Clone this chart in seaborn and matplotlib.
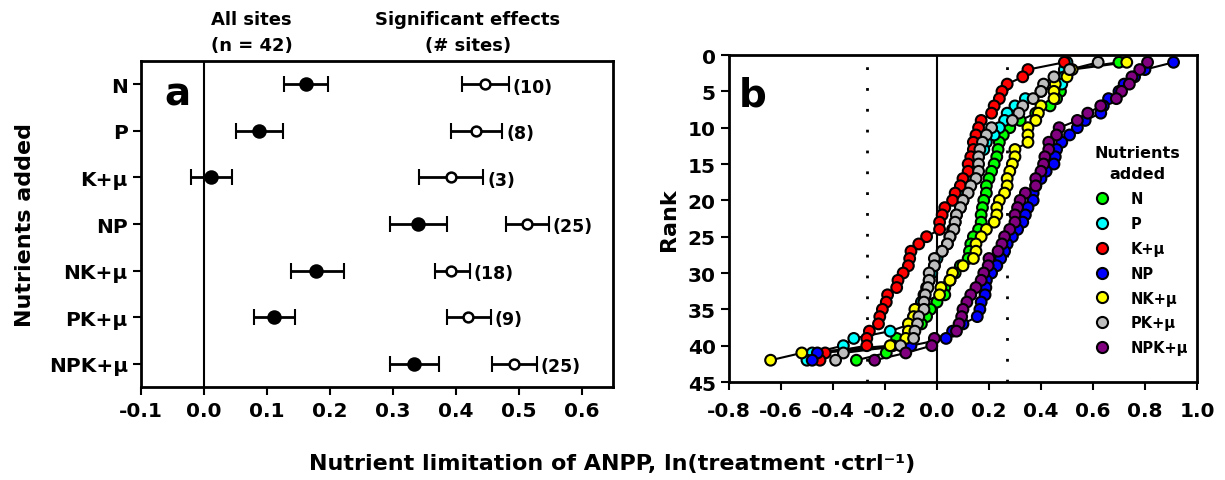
import numpy as np
import pandas as pd
import seaborn as sns
import matplotlib.pyplot as plt
from matplotlib.lines import Line2D

# Style
sns.set_style("ticks")
plt.rcParams['font.family'] = ['DejaVu Sans']
plt.rcParams['font.weight'] = 'bold'
for key in ['text.color', 'axes.labelcolor', 'xtick.color', 'ytick.color', 'axes.edgecolor']:
    plt.rcParams[key] = 'black'

# Panel a data
nutrients = ['N', 'P', 'K+μ', 'NP', 'NK+μ', 'PK+μ', 'NPK+μ']
all_mean = [0.162, 0.087, 0.011, 0.340, 0.178, 0.112, 0.334]
all_lo = [0.128, 0.051, -0.021, 0.296, 0.138, 0.079, 0.296]
all_hi = [0.197, 0.126, 0.045, 0.386, 0.222, 0.145, 0.373]
sig_mean = [0.447, 0.432, 0.392, 0.514, 0.393, 0.419, 0.492]
sig_lo = [0.410, 0.392, 0.342, 0.480, 0.367, 0.386, 0.457]
sig_hi = [0.485, 0.474, 0.444, 0.548, 0.422, 0.456, 0.529]
sig_n = ['(10)', '(8)', '(3)', '(25)', '(18)', '(9)', '(25)']

# Panel b data: effect size per site, sorted by rank (1 = largest)
ranks = list(range(1, 43))
n_vals = [0.70, 0.50, 0.48, 0.475, 0.475, 0.46, 0.435, 0.38, 0.32, 0.28,
          0.255, 0.24, 0.235, 0.23, 0.22, 0.21, 0.20, 0.19, 0.19, 0.18,
          0.175, 0.17, 0.17, 0.16, 0.14, 0.13, 0.125, 0.12, 0.09, 0.07,
          0.05, 0.03, 0.03, 0.0, -0.025, -0.04, -0.06, -0.10, -0.155, -0.17,
          -0.195, -0.31]
p_vals = [0.50, 0.49, 0.49, 0.48, 0.40, 0.34, 0.30, 0.27, 0.26, 0.24,
          0.22, 0.19, 0.18, 0.16, 0.15, 0.14, 0.13, 0.12, 0.11, 0.10,
          0.09, 0.075, 0.07, 0.06, 0.05, 0.04, 0.02, 0.0, -0.01, -0.02,
          -0.03, -0.04, -0.05, -0.06, -0.07, -0.09, -0.10, -0.18, -0.32, -0.36,
          -0.48, -0.50]
k_vals = [0.49, 0.35, 0.33, 0.27, 0.25, 0.24, 0.22, 0.21, 0.17, 0.16,
          0.15, 0.14, 0.14, 0.13, 0.12, 0.12, 0.10, 0.09, 0.07, 0.06,
          0.03, 0.02, 0.01, 0.01, -0.04, -0.07, -0.10, -0.105, -0.11, -0.13,
          -0.15, -0.155, -0.19, -0.195, -0.21, -0.22, -0.225, -0.26, -0.27, -0.27,
          -0.43, -0.45]
np_vals = [0.91, 0.80, 0.76, 0.72, 0.70, 0.66, 0.64, 0.63, 0.57, 0.54,
           0.51, 0.48, 0.46, 0.455, 0.45, 0.42, 0.40, 0.38, 0.37, 0.37,
           0.35, 0.34, 0.33, 0.31, 0.29, 0.27, 0.26, 0.245, 0.23, 0.21,
           0.19, 0.188, 0.185, 0.17, 0.165, 0.155, 0.10, 0.06, 0.035, -0.10,
           -0.46, -0.48]
nk_vals = [0.73, 0.52, 0.50, 0.455, 0.45, 0.45, 0.40, 0.39, 0.38, 0.35,
           0.35, 0.35, 0.30, 0.30, 0.29, 0.28, 0.27, 0.27, 0.26, 0.24,
           0.23, 0.23, 0.22, 0.19, 0.17, 0.15, 0.15, 0.14, 0.10, 0.06,
           0.05, 0.015, 0.01, -0.05, -0.085, -0.09, -0.11, -0.11, -0.12, -0.18,
           -0.52, -0.64]
pk_vals = [0.62, 0.51, 0.45, 0.41, 0.40, 0.37, 0.33, 0.315, 0.29, 0.21,
           0.19, 0.175, 0.165, 0.16, 0.16, 0.16, 0.15, 0.13, 0.12, 0.10,
           0.09, 0.075, 0.07, 0.065, 0.05, 0.04, 0.02, -0.01, -0.01, -0.03,
           -0.03, -0.035, -0.045, -0.05, -0.05, -0.07, -0.075, -0.085, -0.09, -0.14,
           -0.36, -0.39]
npk_vals = [0.81, 0.78, 0.75, 0.74, 0.71, 0.69, 0.63, 0.58, 0.54, 0.47,
            0.46, 0.43, 0.43, 0.415, 0.41, 0.40, 0.38, 0.38, 0.34, 0.32,
            0.31, 0.30, 0.30, 0.28, 0.26, 0.25, 0.235, 0.20, 0.197, 0.18,
            0.17, 0.15, 0.13, 0.115, 0.10, 0.095, 0.085, 0.075, -0.01, -0.02,
            -0.12, -0.24]
colors = ['#00ff00', '#00ffff', '#ff0000', '#0000ff', '#ffff00', '#bebebe', '#800080']

rows = []
for name, vals in zip(nutrients, [n_vals, p_vals, k_vals, np_vals, nk_vals, pk_vals, npk_vals]):
    for r, v in zip(ranks, vals):
        rows.append({'nutrient': name, 'rank': r, 'effect': v})
df_b = pd.DataFrame(rows)

df_a = pd.DataFrame({'nutrient': nutrients, 'pos': np.arange(1, 8),
                     'all': all_mean, 'sig': sig_mean})

fig = plt.figure(figsize=(12.25, 4.81), dpi=100)
ax1 = fig.add_axes([0.1151, 0.1933, 0.3853, 0.6778])
ax2 = fig.add_axes([0.5951, 0.2037, 0.3820, 0.6798])

# ---- panel a ----
ax1.axvline(0, color='black', lw=1.5, zorder=1)
pos = df_a['pos'].values
ax1.errorbar(all_mean, pos,
             xerr=[np.array(all_mean) - np.array(all_lo), np.array(all_hi) - np.array(all_mean)],
             fmt='none', ecolor='black', elinewidth=2, capsize=6, capthick=1.5, zorder=2)
ax1.errorbar(sig_mean, pos,
             xerr=[np.array(sig_mean) - np.array(sig_lo), np.array(sig_hi) - np.array(sig_mean)],
             fmt='none', ecolor='black', elinewidth=2, capsize=6, capthick=1.5, zorder=2)
sns.scatterplot(data=df_a, x='all', y='pos', ax=ax1, color='black', s=80,
                edgecolor='black', linewidth=1.5, zorder=3)
sns.scatterplot(data=df_a, x='sig', y='pos', ax=ax1, color='white', s=50,
                edgecolor='black', linewidth=1.8, zorder=3)
for y, hi, lab in zip(pos, sig_hi, sig_n):
    ax1.text(hi + 0.006, y + 0.05, lab, ha='left', va='center', fontsize=12.5, fontweight='bold')

ticks_a = np.round(np.arange(-0.1, 0.61, 0.1), 1) + 0.0
ax1.set_xlim(-0.1, 0.65)
ax1.set_ylim(7.5, 0.5)
ax1.set_xticks(ticks_a)
ax1.set_xticklabels(['%.1f' % t for t in ticks_a])
ax1.set_yticks(pos)
ax1.set_yticklabels(nutrients)
ax1.set_xlabel('')
ax1.set_ylabel('Nutrients added', fontsize=16, fontweight='bold', labelpad=10)
ax1.tick_params(axis='both', labelsize=14.5, width=1.5, length=6, direction='out')
ax1.tick_params(axis='x', pad=4)
for s in ax1.spines.values():
    s.set_linewidth(2)
ax1.text(0.05, 0.9, 'a', transform=ax1.transAxes, fontsize=28, fontweight='bold',
         ha='left', va='center')
ax1.text(0.076, 1.02, 'All sites\n(n = 42)', transform=ax1.get_xaxis_transform(),
         ha='center', va='bottom', fontsize=13, fontweight='bold', linespacing=1.6)
ax1.text(0.419, 1.02, 'Significant effects\n(# sites)', transform=ax1.get_xaxis_transform(),
         ha='center', va='bottom', fontsize=13, fontweight='bold', linespacing=1.6)

# ---- panel b ----
ax2.axvline(0, color='black', lw=1.5, zorder=1)
for xv in (-0.27, 0.27):
    ax2.axvline(xv, color='black', lw=2, ls=(0, (1, 6.5)), zorder=1)
sns.lineplot(data=df_b, x='effect', y='rank', units='nutrient', estimator=None,
             sort=False, color='black', lw=1.5, ax=ax2, zorder=2)
sns.scatterplot(data=df_b, x='effect', y='rank', hue='nutrient', palette=colors,
                hue_order=nutrients, s=60, edgecolor='black', linewidth=1.5,
                ax=ax2, zorder=3, legend=False)
ticks_b = np.round(np.arange(-0.8, 1.01, 0.2), 1) + 0.0
ax2.set_xlim(-0.8, 1.0)
ax2.set_ylim(45, 0)
ax2.set_xticks(ticks_b)
ax2.set_xticklabels(['%.1f' % t for t in ticks_b])
ax2.set_yticks(np.arange(0, 46, 5))
ax2.set_xlabel('')
ax2.set_ylabel('Rank', fontsize=16, fontweight='bold', labelpad=6)
ax2.tick_params(axis='both', labelsize=14.5, width=1.5, length=6, direction='out')
ax2.tick_params(axis='x', pad=8)
for s in ax2.spines.values():
    s.set_linewidth(2)
ax2.text(0.02, 0.88, 'b', transform=ax2.transAxes, fontsize=28, fontweight='bold',
         ha='left', va='center')
handles = [Line2D([], [], marker='o', ls='none', markersize=8, markerfacecolor=c,
                  markeredgecolor='black', markeredgewidth=1.5) for c in colors]
leg = ax2.legend(handles, nutrients, title='Nutrients\nadded', loc='upper left',
                 bbox_to_anchor=(0.767, 0.725), frameon=False, fontsize=10.5,
                 title_fontproperties={'weight': 'bold', 'size': 11.5},
                 handletextpad=0.9, labelspacing=0.68, borderaxespad=0, borderpad=0)
leg.get_title().set_linespacing(1.5)
leg.get_title().set_multialignment('center')
for t in leg.get_texts():
    t.set_fontweight('bold')

fig.text(0.5, 0.035, 'Nutrient limitation of ANPP, ln(treatment ·ctrl⁻¹)',
         ha='center', va='center', fontsize=16, fontweight='bold')

fig.savefig('out.png', dpi=100)
